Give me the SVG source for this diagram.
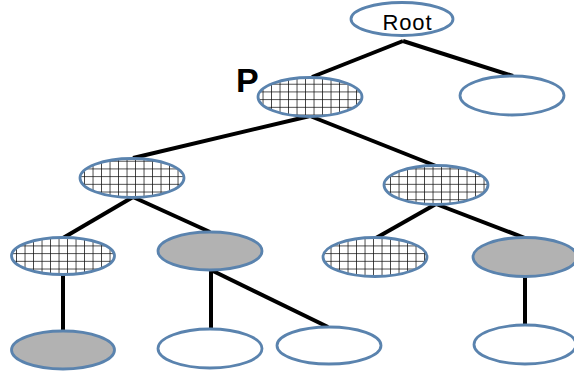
<svg xmlns="http://www.w3.org/2000/svg" width="574" height="375" viewBox="0 0 574 375">
  <defs>
    <pattern id="grid" patternUnits="userSpaceOnUse" width="8.5" height="7.7">
      <rect width="8.5" height="7.7" fill="#ffffff"/>
      <path d="M8.5 0 V7.7 M0 7.7 H8.5" stroke="#111111" stroke-width="1.5" fill="none"/>
    </pattern>
  </defs>
  <style>
    .edge { stroke: #000000; stroke-width: 4; stroke-linecap: butt; fill: none; }
    .node { stroke: #5a83ae; stroke-width: 2.8; }
    .hatch { fill: url(#grid); }
    .gray { fill: #b2b2b2; }
    .white { fill: #ffffff; }
    .label { font-family: "Liberation Sans", Arial, sans-serif; fill: #000000; }
  </style>
  <rect width="574" height="375" fill="#ffffff"/>
  <g id="connectors">
    <line class="edge" x1="403" y1="41" x2="312" y2="77"/>
    <line class="edge" x1="403" y1="41" x2="513" y2="76"/>
    <line class="edge" x1="310" y1="116" x2="133" y2="158"/>
    <line class="edge" x1="310" y1="116" x2="436" y2="166"/>
    <line class="edge" x1="133" y1="197" x2="63" y2="238"/>
    <line class="edge" x1="133" y1="197" x2="210" y2="232"/>
    <line class="edge" x1="436" y1="204" x2="376" y2="238"/>
    <line class="edge" x1="436" y1="204" x2="525" y2="238"/>
    <line class="edge" x1="63" y1="275" x2="63" y2="331"/>
    <line class="edge" x1="211" y1="270" x2="211" y2="329"/>
    <line class="edge" x1="211" y1="270" x2="328" y2="327"/>
    <line class="edge" x1="525" y1="277" x2="525" y2="325"/>
  </g>
  <g id="root">
    <ellipse class="node white" cx="402" cy="19" rx="51" ry="16.5"/>
    <text class="label" x="407" y="30" font-size="22" text-anchor="middle" textLength="49">Root</text>
  </g>
  <g id="p">
    <ellipse class="node hatch" cx="310" cy="97" rx="52" ry="19.5"/>
    <text class="label" x="236" y="92" font-size="34" font-weight="bold">P</text>
  </g>
  <g id="r1">
    <ellipse class="node white" cx="512" cy="95.5" rx="52" ry="19.5"/>
  </g>
  <g id="a">
    <ellipse class="node hatch" cx="132" cy="178" rx="52" ry="19.5"/>
  </g>
  <g id="b">
    <ellipse class="node hatch" cx="436" cy="185" rx="52" ry="19.5"/>
  </g>
  <g id="a1">
    <ellipse class="node hatch" cx="63" cy="256" rx="51.5" ry="18.5"/>
  </g>
  <g id="a2">
    <ellipse class="node gray" cx="210" cy="251" rx="52" ry="19"/>
  </g>
  <g id="b1">
    <ellipse class="node hatch" cx="375" cy="257" rx="52" ry="19.5"/>
  </g>
  <g id="b2">
    <ellipse class="node gray" cx="525" cy="257" rx="52" ry="19.5"/>
  </g>
  <g id="a1c">
    <ellipse class="node gray" cx="63" cy="350" rx="51.5" ry="19"/>
  </g>
  <g id="a2c1">
    <ellipse class="node white" cx="210" cy="348.5" rx="52" ry="19.5"/>
  </g>
  <g id="a2c2">
    <ellipse class="node white" cx="329" cy="345.5" rx="52" ry="18.5"/>
  </g>
  <g id="b2c">
    <ellipse class="node white" cx="525" cy="344.5" rx="51" ry="19.5"/>
  </g>
</svg>
